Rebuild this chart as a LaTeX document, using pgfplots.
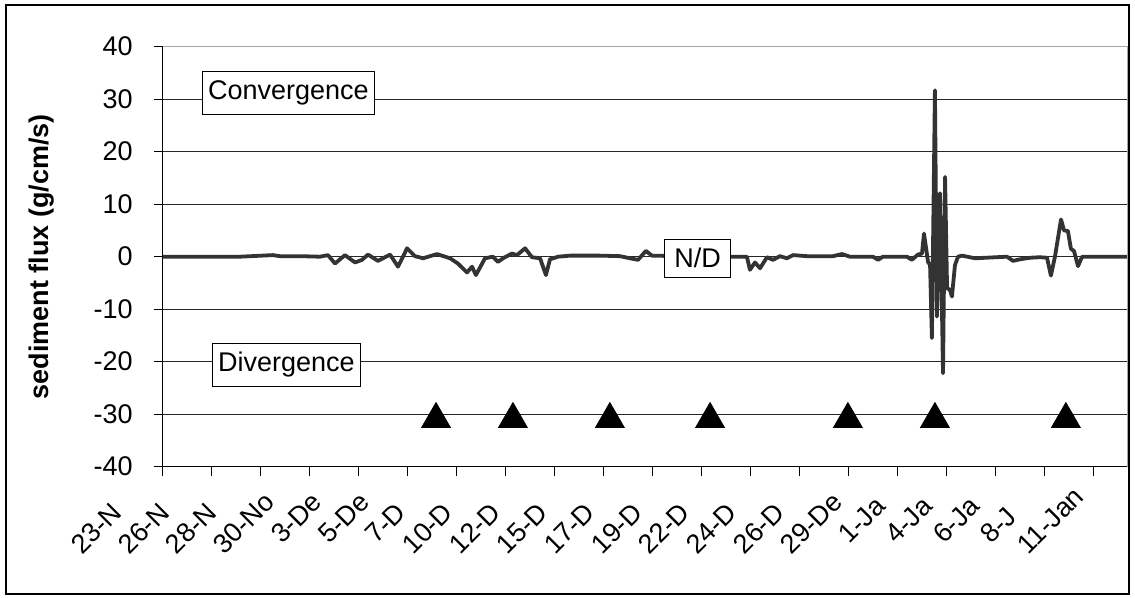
\documentclass[border=0pt]{standalone}
\usepackage{fontspec}
\setmainfont{Liberation Sans}
\usepackage{pgfplots}
\pgfplotsset{compat=1.18}
\definecolor{linegray}{RGB}{51,51,51}
\begin{document}
\fontsize{13.5pt}{16pt}\selectfont
\begin{tikzpicture}
\useasboundingbox (-81.5pt,-65.65pt) rectangle (486pt,233.35pt);
\draw[black, line width=0.6pt] (-78.5pt,-63.65pt) rectangle (483pt,230.85pt);
\begin{axis}[
  at={(0pt,0pt)}, anchor=south west,
  scale only axis, width=482pt, height=210pt,
  xmin=0, xmax=47.63, ymin=-40, ymax=40,
  axis x line*=bottom, axis y line*=left,
  axis line style={black, line width=0.5pt},
  tick align=outside, major tick length=4.5pt,
  tick style={black, line width=0.5pt},
  xtick={0,2.421,...,46.1},
  xticklabels={},
  extra x ticks={0.445,2.782,5.119,7.456,9.793,12.130,14.467,16.804,19.141,21.478,23.815,26.152,28.489,30.826,33.163,35.500,37.837,40.174,42.511,44.848,47.185},
  extra x tick labels={23-N,26-N,28-N,30-No,\phantom{0}3-De,\phantom{0}5-De,\phantom{0}7-D,10-D,12-D,15-D,17-D,19-D,22-D,24-D,26-D,29-De,\phantom{0}1-Ja,\phantom{0}4-Ja,\phantom{0}6-Ja,\phantom{0}8-J,11-Jan},
  extra x tick style={major tick length=0pt, grid=none},
  xticklabel style={inner sep=0pt, xshift=-45pt, yshift=-44.6pt, rotate=45, anchor=base west},
  ytick={-40,-30,...,40},
  yticklabels={-40,-30,-20,-10,0,10,20,30,40},
  yticklabel style={xshift=-6pt},
  ymajorgrids, y grid style={black!85, line width=0.5pt},
  ylabel={sediment flux (g/cm/s)},
  every axis y label/.style={at={(axis description cs:-0.1255,0.5)}, rotate=90, anchor=center, font=\bfseries},
]
\addplot[line width=1.9pt, color=linegray, line join=round] coordinates {
(0,0) (1.83,0) (3.80,0) (5.43,0.3) (5.78,0.1) (6.77,0.1) (7.76,0)
(8.15,0.3) (8.50,-1.3) (8.99,0.3) (9.49,-1.1) (9.83,-0.6) (10.13,0.4)
(10.62,-0.8) (11.22,0.4) (11.61,-1.9) (12.06,1.6) (12.45,0.1) (12.85,-0.3)
(13.54,0.5) (14.18,-0.3) (14.57,-1.3) (15.02,-3.0) (15.27,-1.9) (15.46,-3.5)
(15.91,-0.3) (16.30,0) (16.55,-1.0) (16.80,-0.3) (17.24,0.6) (17.49,0.3)
(17.89,1.6) (18.23,-0.1) (18.63,-0.3) (18.92,-3.5) (19.12,-0.5) (19.52,0)
(20.11,0.2) (21.59,0.2) (22.58,0.1) (23.07,-0.3) (23.47,-0.6) (23.86,1.1)
(24.16,0.2) (25.54,0.1) (26.53,0) (28.16,0) (28.85,0) (29.00,-2.5)
(29.25,-1.1) (29.50,-2.2) (29.84,-0.1) (30.14,-0.6) (30.48,0.1) (30.83,-0.3)
(31.13,0.3) (31.82,0.1) (33.10,0.1) (33.55,0.5) (33.94,0) (35.08,0)
(35.33,-0.6) (35.57,0) (36.76,0) (37.00,-0.6) (37.30,0.4) (37.50,0.6)
(37.60,4.4) (37.80,-1.0) (37.90,-1.6) (37.99,-15.5) (38.14,31.7) (38.24,-11.4)
(38.39,12.1) (38.49,-10.8) (38.54,-22.2) (38.64,15.2) (38.74,-6.0) (38.88,-6.3)
(38.98,-7.6) (39.13,-1.6) (39.28,0) (39.48,0.2) (40.12,-0.3) (41.70,0)
(42.00,-0.8) (42.34,-0.5) (42.84,-0.2) (43.33,-0.1) (43.68,-0.2) (43.87,-3.6)
(44.07,0) (44.37,7.1) (44.52,5.0) (44.71,4.9) (44.86,1.5) (45.01,1.1)
(45.21,-1.8) (45.41,0) (46.29,0) (47.63,0)
};
\addplot[only marks, mark=triangle*, mark size=8.3pt, black, mark options={yshift=-2.5pt}] coordinates {
(13.49,-30) (17.29,-30) (22.08,-30) (27.03,-30) (33.84,-30) (38.14,-30) (44.61,-30)
};
\node[draw, fill=white, line width=0.5pt, inner xsep=3pt, minimum height=20pt] at (axis cs:6.20,31.2) {Convergence};
\node[draw, fill=white, line width=0.5pt, inner xsep=3pt, minimum height=20pt] at (axis cs:6.10,-20.6) {Divergence};
\node[draw, fill=white, line width=0.5pt, inner xsep=5pt, minimum height=19pt] at (axis cs:26.41,-0.25) {N/D};
\end{axis}
\draw[gray!70, line width=0.5pt] (0pt,210pt) -- (482pt,210pt) -- (482pt,0pt);
\end{tikzpicture}
\end{document}
